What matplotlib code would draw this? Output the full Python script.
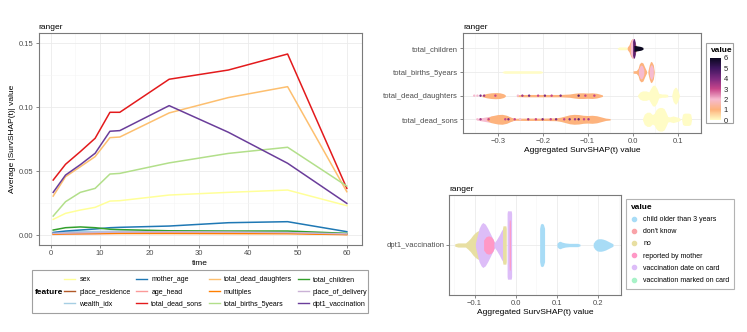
import numpy as np
import matplotlib.pyplot as plt
from matplotlib.colors import LinearSegmentedColormap, Normalize
from matplotlib.cm import ScalarMappable
from matplotlib.lines import Line2D
from matplotlib.patches import Rectangle
from matplotlib.ticker import MultipleLocator, FixedLocator

plt.rcParams['font.family'] = ['Liberation Sans', 'DejaVu Sans']

# ---- left panel: average |SurvSHAP(t)| over time ----
times = [0.5, 3, 6, 9, 12, 14, 24, 36, 48, 60]
sex = [0.0125, 0.0172, 0.0198, 0.0219, 0.0268, 0.0271, 0.0315, 0.0336, 0.0354, 0.0232]
mother_age = [0.0023, 0.0034, 0.0042, 0.0050, 0.0060, 0.0063, 0.0073, 0.0099, 0.0107, 0.0029]
total_dead_daughters = [0.0307, 0.0458, 0.0536, 0.0615, 0.0763, 0.0768, 0.0956, 0.1076, 0.1161, 0.0341]
total_children = [0.0042, 0.0060, 0.0066, 0.0060, 0.0048, 0.0045, 0.0036, 0.0034, 0.0034, 0.0016]
place_residence = [0.0015, 0.0020, 0.0021, 0.0022, 0.0024, 0.0025, 0.0025, 0.0022, 0.0020, 0.0008]
age_head = [0.0008, 0.0010, 0.0012, 0.0013, 0.0015, 0.0017, 0.0019, 0.0019, 0.0018, 0.0010]
multiples = [0.0010, 0.0012, 0.0013, 0.0014, 0.0015, 0.0015, 0.0015, 0.0014, 0.0013, 0.0006]
place_of_delivery = [0.0016, 0.0018, 0.0020, 0.0022, 0.0025, 0.0026, 0.0028, 0.0026, 0.0022, 0.0012]
wealth_idx = [0.0020, 0.0025, 0.0029, 0.0030, 0.0032, 0.0032, 0.0030, 0.0028, 0.0025, 0.0012]
total_dead_sons = [0.0432, 0.0555, 0.0654, 0.0758, 0.0961, 0.0961, 0.1219, 0.1291, 0.1416, 0.0367]
total_births_5years = [0.0151, 0.0263, 0.0336, 0.0367, 0.0479, 0.0484, 0.0566, 0.0640, 0.0688, 0.0385]
dpt1_vaccination = [0.0336, 0.0471, 0.0552, 0.0641, 0.0813, 0.0818, 0.1013, 0.0805, 0.0563, 0.0250]

feature_names = ["sex", "place_residence", "wealth_idx", "mother_age", "age_head",
                 "total_dead_sons", "total_dead_daughters", "multiples",
                 "total_births_5years", "total_children", "place_of_delivery",
                 "dpt1_vaccination"]
feature_series = [sex, place_residence, wealth_idx, mother_age, age_head,
                  total_dead_sons, total_dead_daughters, multiples,
                  total_births_5years, total_children, place_of_delivery,
                  dpt1_vaccination]
feature_colors = ["#FFFF99", "#B15928", "#A6CEE3", "#1F78B4", "#FB9A99",
                  "#E31A1C", "#FDBF6F", "#FF7F00", "#B2DF8A", "#33A02C",
                  "#CAB2D6", "#6A3D9A"]

# ---- top right: beeswarm of numeric features (outline profiles: value, x, half-height) ----
num_rows = ["total_dead_sons", "total_dead_daughters", "total_births_5years", "total_children"]

sons_shapes = [
    (2, [-0.346, -0.335, -0.32, -0.30, -0.28, -0.265], [0.03, 0.07, 0.12, 0.16, 0.12, 0.05]),
    (1, [-0.325, -0.315, -0.30, -0.29, -0.28, -0.272, -0.265], [0.04, 0.14, 0.2, 0.21, 0.17, 0.1, 0.05]),
    (1, [-0.27, -0.24, -0.2, -0.17, -0.16, -0.15, -0.14, -0.13, -0.12, -0.11, -0.10, -0.09,
         -0.08, -0.07, -0.06, -0.05],
        [0.04, 0.05, 0.05, 0.06, 0.09, 0.14, 0.19, 0.21, 0.2, 0.17, 0.16, 0.17, 0.15, 0.1, 0.05, 0.03]),
    (0, [0.022, 0.026, 0.032, 0.038, 0.044, 0.048, 0.052, 0.056, 0.06, 0.065, 0.07, 0.074,
         0.078, 0.082, 0.086, 0.09, 0.094, 0.098, 0.102, 0.106],
        [0.03, 0.22, 0.3, 0.3, 0.2, 0.25, 0.4, 0.47, 0.5, 0.5, 0.45, 0.3, 0.12, 0.1, 0.12,
         0.14, 0.12, 0.1, 0.08, 0.03]),
    (0, [0.109, 0.111, 0.115, 0.12, 0.125, 0.129, 0.131], [0.03, 0.22, 0.26, 0.26, 0.26, 0.22, 0.03]),
]
daughters_shapes = [
    (1, [-0.335, -0.325, -0.315, -0.305, -0.295, -0.287, -0.283], [0.04, 0.09, 0.12, 0.13, 0.12, 0.08, 0.03]),
    (1, [-0.258, -0.24, -0.2, -0.16, -0.14, -0.13, -0.12, -0.11, -0.1, -0.09, -0.08, -0.072, -0.067],
        [0.04, 0.05, 0.05, 0.05, 0.07, 0.1, 0.12, 0.12, 0.11, 0.12, 0.1, 0.06, 0.03]),
    (0, [0.011, 0.016, 0.022, 0.03, 0.036, 0.04, 0.044, 0.047, 0.05, 0.054, 0.058, 0.065, 0.072, 0.078],
        [0.03, 0.15, 0.2, 0.2, 0.16, 0.3, 0.42, 0.45, 0.42, 0.3, 0.1, 0.07, 0.07, 0.05]),
    (0, [0.087, 0.09, 0.094, 0.097, 0.1, 0.104], [0.03, 0.25, 0.35, 0.35, 0.25, 0.03]),
]
births_shapes = [
    (0, [-0.29, -0.285, -0.205, -0.2], [0.02, 0.055, 0.055, 0.02]),
    (1, [0.001, 0.008, 0.012, 0.015, 0.019, 0.023, 0.027, 0.031], [0.05, 0.06, 0.15, 0.35, 0.42, 0.38, 0.2, 0.04]),
    (2, [0.013, 0.016, 0.019, 0.022, 0.025], [0.1, 0.25, 0.3, 0.25, 0.1]),
    (1, [0.034, 0.037, 0.040, 0.043, 0.046, 0.048], [0.05, 0.3, 0.45, 0.42, 0.3, 0.04]),
    (2, [0.037, 0.04, 0.043, 0.046], [0.15, 0.3, 0.3, 0.15]),
]
children_shapes = [
    (0, [-0.034, -0.03, -0.015, -0.011], [0.02, 0.06, 0.06, 0.02]),
    (1, [-0.012, -0.008, -0.004, 0.0, 0.004, 0.008, 0.011], [0.05, 0.15, 0.35, 0.42, 0.3, 0.12, 0.04]),
    (2, [-0.005, -0.002, 0.001, 0.004], [0.2, 0.4, 0.42, 0.2]),
    (4.5, [0.0, 0.002, 0.004, 0.006], [0.3, 0.42, 0.4, 0.25]),
    (6, [0.003, 0.006, 0.012, 0.018, 0.023], [0.12, 0.12, 0.1, 0.08, 0.04]),
]

sons_dots_x = [-0.345, -0.338, -0.32, -0.283, -0.276, -0.262, -0.25, -0.232, -0.215, -0.2,
               -0.182, -0.17, -0.152, -0.14, -0.128, -0.12, -0.108, -0.098]
sons_dots_v = [2, 3.5, 3, 3, 4, 3, 2, 3.5, 3, 4, 3, 4, 3, 4, 3.5, 4.5, 3, 3.5]
daughters_dots_x = [-0.352, -0.345, -0.338, -0.33, -0.305, -0.255, -0.245, -0.23, -0.21,
                    -0.195, -0.18, -0.16, -0.12, -0.105, -0.085]
daughters_dots_v = [2, 2, 4, 3.5, 3, 2, 3.5, 4, 3, 4, 3, 4, 4.5, 3, 3]

value_cmap_colors = ["#FFFCC6", "#FDB27C", "#F6BBD0", "#C8468A", "#7E2A80", "#3F1660", "#0B0820"]

# ---- bottom right: beeswarm of dpt1_vaccination ----
vacc_levels = ["child older than 3 years", "don't know", "no", "reported by mother",
               "vaccination date on card", "vaccination marked on card"]
vacc_colors = ["#A8DCF6", "#F9A3A8", "#E8DFA2", "#FF98C6", "#DDBDF8", "#A8F2C8"]
vacc_shapes = [
    ("no", [-0.148, -0.14, -0.13, -0.122, -0.116, -0.11, -0.104, -0.098, -0.092, -0.086, -0.08],
           [0.015, 0.025, 0.025, 0.025, 0.05, 0.08, 0.12, 0.15, 0.17, 0.17, 0.1]),
    ("vaccination date on card", [-0.098, -0.094, -0.089, -0.084, -0.08, -0.074, -0.068, -0.062, -0.056, -0.05],
           [0.02, 0.1, 0.2, 0.25, 0.27, 0.25, 0.2, 0.14, 0.08, 0.02]),
    ("reported by mother", [-0.078, -0.072, -0.066, -0.06, -0.055, -0.052],
           [0.06, 0.1, 0.11, 0.1, 0.07, 0.02]),
    ("vaccination date on card", [-0.053, -0.046, -0.04, -0.035, -0.03],
           [0.02, 0.07, 0.12, 0.17, 0.21]),
    ("no", [-0.032, -0.031, -0.024, -0.023], [0.2, 0.23, 0.23, 0.2]),
    ("vaccination date on card", [-0.021, -0.02, -0.011, -0.01], [0.38, 0.41, 0.41, 0.38]),
    ("reported by mother", [-0.016, -0.0155, -0.0135, -0.013], [0.25, 0.3, 0.3, 0.25]),
    ("child older than 3 years", [0.058, 0.06, 0.063, 0.067, 0.07], [0.2, 0.25, 0.26, 0.25, 0.2]),
    ("child older than 3 years", [0.1, 0.104, 0.108, 0.112, 0.12, 0.13, 0.14, 0.15, 0.156],
           [0.02, 0.04, 0.045, 0.035, 0.025, 0.02, 0.02, 0.02, 0.01]),
    ("child older than 3 years", [0.188, 0.192, 0.197, 0.202, 0.207, 0.212, 0.218, 0.224, 0.23, 0.236],
           [0.02, 0.05, 0.07, 0.075, 0.075, 0.07, 0.06, 0.045, 0.03, 0.015]),
]

W, H = 747, 332


def box(x0, y0, x1, y1):
    return [x0 / W, 1 - y1 / H, (x1 - x0) / W, (y1 - y0) / H]


def theme_bw(ax):
    for s in ax.spines.values():
        s.set_color('#7a7a7a')
        s.set_linewidth(0.8)
    ax.tick_params(which='major', length=2, width=0.5, color='#555555', labelsize=5.5,
                   labelcolor='#4d4d4d', pad=1.5)
    ax.tick_params(which='minor', length=0)
    ax.set_axisbelow(True)


fig = plt.figure(figsize=(7.47, 3.32), dpi=100)

# left panel
ax1 = fig.add_axes(box(38.5, 33, 361.5, 245))
theme_bw(ax1)
for name, vals, col in zip(feature_names, feature_series, feature_colors):
    ax1.plot(times, vals, color=col, lw=1.1, label=name)
ax1.set_xlim(-2.475, 62.975)
ax1.set_ylim(-0.0075, 0.158)
ax1.xaxis.set_major_locator(MultipleLocator(10))
ax1.xaxis.set_minor_locator(MultipleLocator(5))
ax1.yaxis.set_major_locator(MultipleLocator(0.05))
ax1.yaxis.set_minor_locator(MultipleLocator(0.025))
ax1.yaxis.set_major_formatter(lambda v, p: f"{v:.2f}")
ax1.grid(which='major', color='#ebebeb', lw=0.6)
ax1.grid(which='minor', color='#f5f5f5', lw=0.4)
ax1.set_xlabel("time", fontsize=6, labelpad=2)
ax1.set_ylabel("Average |SurvSHAP(t)| value", fontsize=6, labelpad=2)
ax1.set_title("ranger", loc='left', fontsize=6, pad=3)

handles = [Line2D([], [], color=c, lw=1.0) for c in feature_colors]
fig.legend(handles, feature_names, ncol=4, loc='center left',
           bbox_to_anchor=(64 / W, 1 - 292 / H), frameon=False, fontsize=5,
           handlelength=1.6, handletextpad=0.6, columnspacing=0.8,
           labelspacing=0.75, borderaxespad=0, borderpad=0)
fig.text(35 / W, 1 - 292.3 / H, "feature", fontsize=6, fontweight='bold', va='center')
fig.add_artist(Rectangle((31.7 / W, 1 - 313.3 / H), (368.3 - 31.7) / W, (313.3 - 270) / H,
                         transform=fig.transFigure, fill=False, ec='#a0a0a0', lw=0.8))

# top right panel
cmap = LinearSegmentedColormap.from_list("value", value_cmap_colors)
norm = Normalize(0, 6)
ax2 = fig.add_axes(box(463, 33, 701, 133))
theme_bw(ax2)
row_shapes = [sons_shapes, daughters_shapes, births_shapes, children_shapes]
for i, shapes in enumerate(row_shapes):
    y = i + 1
    for v, xs, hs in shapes:
        xs = np.array(xs)
        hs = np.array(hs)
        ax2.fill_between(xs, y - hs, y + hs, color=cmap(norm(v)), lw=0)
ax2.scatter(sons_dots_x, [1] * len(sons_dots_x), c=sons_dots_v, cmap=cmap, norm=norm, s=3, lw=0)
ax2.scatter(daughters_dots_x, [2] * len(daughters_dots_x), c=daughters_dots_v, cmap=cmap, norm=norm, s=3, lw=0)
ax2.set_xlim(-0.377, 0.152)
ax2.set_ylim(0.42, 4.65)
ax2.xaxis.set_major_locator(MultipleLocator(0.1))
ax2.xaxis.set_minor_locator(MultipleLocator(0.05))
ax2.xaxis.set_major_formatter(lambda v, p: f"{v:.1f}".replace("-", "\u2212"))
ax2.set_yticks(range(1, len(num_rows) + 1))
ax2.set_yticklabels(num_rows)
ax2.grid(axis='x', which='major', color='#ebebeb', lw=0.6)
ax2.grid(axis='x', which='minor', color='#f5f5f5', lw=0.4)
ax2.grid(axis='y', which='major', color='#ebebeb', lw=0.6)
ax2.set_xlabel("Aggregated SurvSHAP(t) value", fontsize=6, labelpad=1.5)
ax2.set_title("ranger", loc='left', fontsize=6, pad=3)

cax = fig.add_axes(box(710, 58, 721, 120))
cb = fig.colorbar(ScalarMappable(norm=norm, cmap=cmap), cax=cax)
cb.outline.set_visible(False)
cb.set_ticks(range(7))
cax.tick_params(labelsize=5.5, length=0, pad=2, labelcolor='#222222')
fig.text(711 / W, 1 - 51 / H, "value", fontsize=6, fontweight='bold', va='center')
fig.add_artist(Rectangle((706 / W, 1 - 123.3 / H), 27.3 / W, 80 / H,
                         transform=fig.transFigure, fill=False, ec='#a0a0a0', lw=0.8))

# bottom right panel
ax3 = fig.add_axes(box(449, 195, 621, 295))
theme_bw(ax3)
for lev, xs, hs in vacc_shapes:
    col = vacc_colors[vacc_levels.index(lev)]
    xs = np.array(xs)
    hs = np.array(hs)
    ax3.fill_between(xs, 1 - hs, 1 + hs, color=col, lw=0)
ax3.set_xlim(-0.162, 0.2555)
ax3.set_ylim(0.4, 1.6)
ax3.xaxis.set_major_locator(FixedLocator([-0.1, 0.0, 0.1, 0.2]))
ax3.xaxis.set_minor_locator(MultipleLocator(0.05))
ax3.xaxis.set_major_formatter(lambda v, p: f"{v:.1f}".replace("-", "\u2212"))
ax3.set_yticks([1])
ax3.set_yticklabels(["dpt1_vaccination"])
ax3.grid(axis='x', which='major', color='#ebebeb', lw=0.6)
ax3.grid(axis='x', which='minor', color='#f5f5f5', lw=0.4)
ax3.grid(axis='y', which='major', color='#ebebeb', lw=0.6)
ax3.set_xlabel("Aggregated SurvSHAP(t) value", fontsize=6, labelpad=1.5)
ax3.set_title("ranger", loc='left', fontsize=6, pad=3)

vh = [Line2D([], [], marker='o', ls='', color=c, markersize=3) for c in vacc_colors]
leg = fig.legend(vh, vacc_levels, loc='upper left', bbox_to_anchor=(626 / W, 1 - 199 / H),
                 fontsize=5, title="value", alignment='left', fancybox=False,
                 title_fontproperties={'weight': 'bold', 'size': 6},
                 handlelength=1.0, handletextpad=0.8, labelspacing=0.75,
                 borderpad=0.7, borderaxespad=0)
leg.get_frame().set_edgecolor('#a0a0a0')
leg.get_frame().set_linewidth(0.8)

fig.savefig("out.png", dpi=100, facecolor='white')
